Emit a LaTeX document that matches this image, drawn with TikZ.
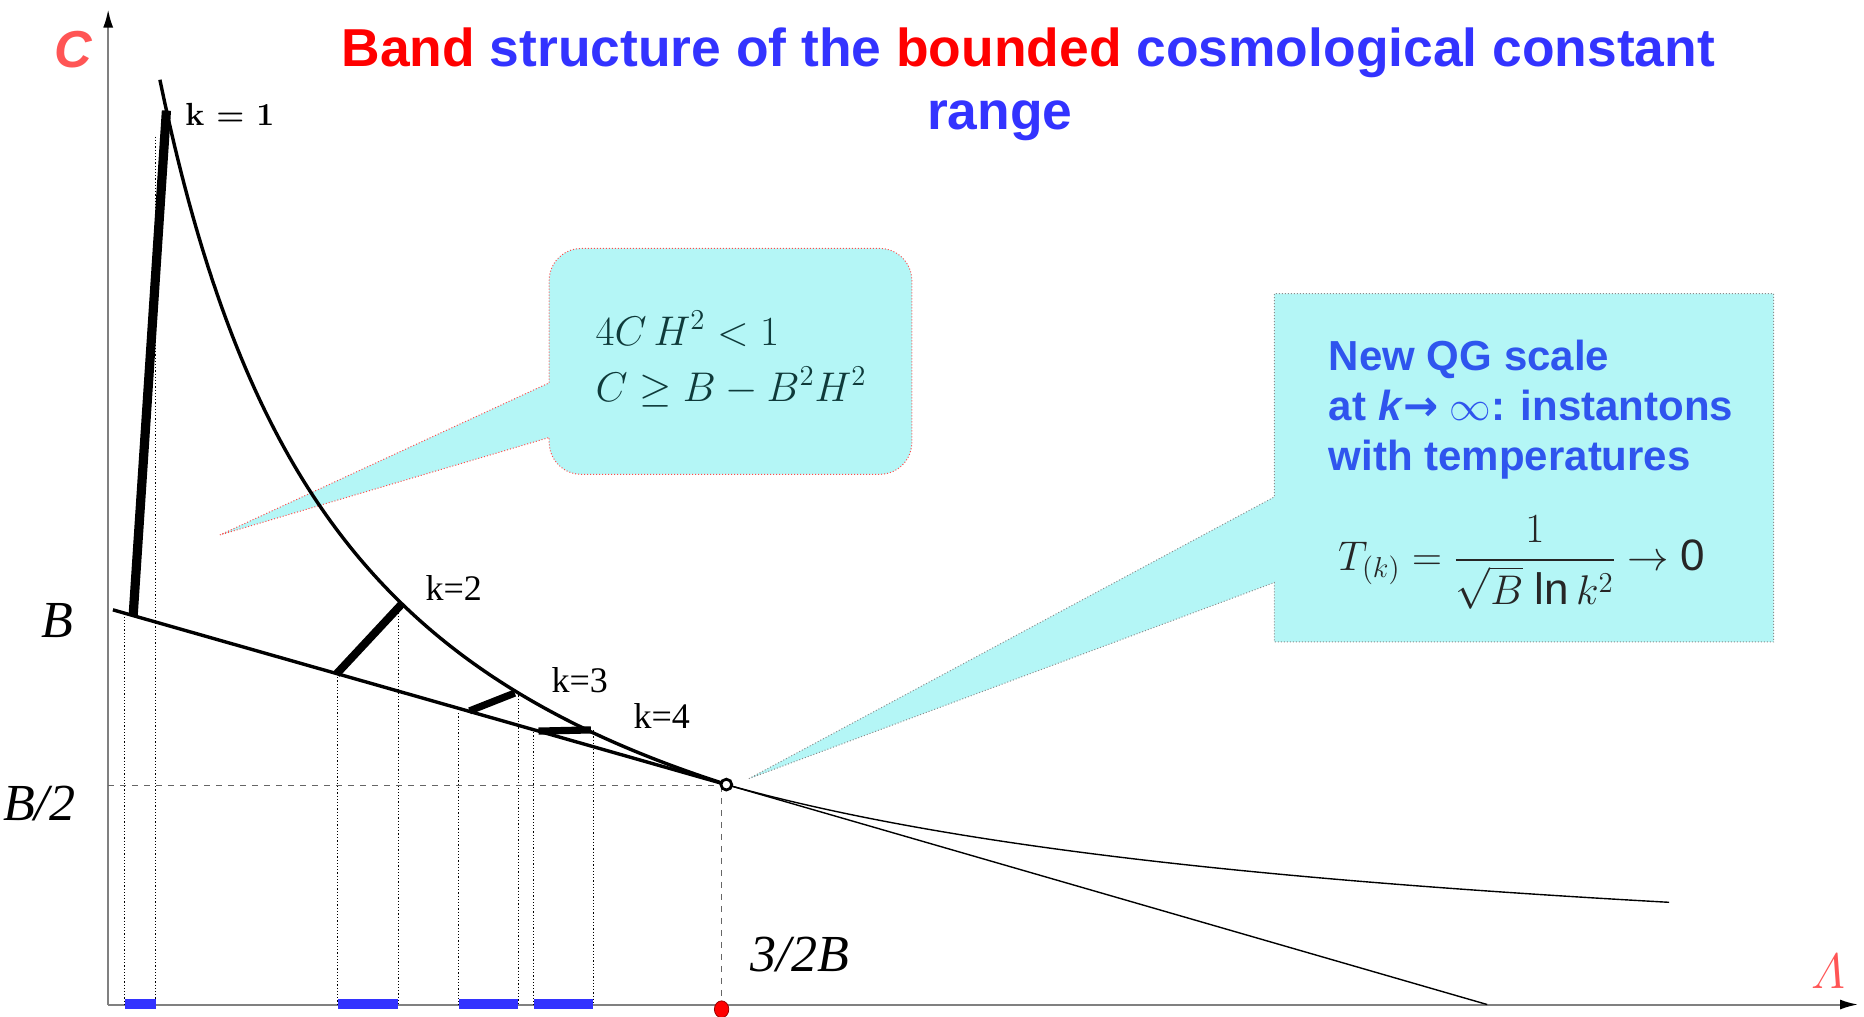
\documentclass[tikz,border=0pt]{standalone}
\usepackage{amsmath,amssymb}
\usepackage{fontspec}
\setsansfont{Liberation Sans}
\newfontfamily\timesfont{Liberation Serif}
\newfontfamily\arrowfont{DejaVu Sans}
\usetikzlibrary{arrows.meta,positioning,calc}
\definecolor{titlered}{HTML}{FF0000}
\definecolor{titleblue}{HTML}{3333FF}
\definecolor{axisred}{HTML}{FF5555}
\definecolor{qgblue}{HTML}{2F55EE}
\definecolor{callcyan}{HTML}{B4F6F6}
\definecolor{mathteal}{HTML}{0F3A3A}
\definecolor{bandblue}{HTML}{3333FF}
\tikzset{axis/.style={draw=black!50,line width=1pt,-{Latex[black,length=9pt,width=5pt]}},
  curve/.style={line width=1.7pt,line join=round},
  thin curve/.style={line width=0.7pt},
  bandbar/.style={line width=3.6pt},
  guide/.style={densely dotted,line width=0.6pt},
  helper/.style={dashed,draw=black!60,line width=0.6pt},
  klabel/.style={anchor=west,font=\timesfont\fontsize{18}{18}\selectfont},
  axlabel/.style={font=\timesfont\itshape\fontsize{26}{26}\selectfont},
  titlefont/.style={anchor=base,text=titleblue,font=\sffamily\bfseries\fontsize{26.7}{32}\selectfont},
  callone/.style={fill=callcyan,draw=red!70,densely dotted,line width=0.5pt},
  calltwo/.style={fill=callcyan,draw=black!45,densely dotted,line width=0.5pt}}
\begin{document}
\begin{tikzpicture}[x=0.5944pt,y=-0.5944pt]
\useasboundingbox (0,0) rectangle (1568,855);
\filldraw[callone] (185,450) -- (462,322) {[rounded corners=16pt] -- (462,209) -- (767,209) -- (767,399) -- (462,399)} -- (462,368) -- cycle;
\filldraw[calltwo] (630,655) -- (1072,418) -- (1072,247) -- (1492,247) -- (1492,540) -- (1072,540) -- (1072,490) -- cycle;
\coordinate (O) at (91,845);
\coordinate (Ytip) at (91,8);
\coordinate (Xtip) at (1563,845);
\draw[axis] (O) -- (Ytip);
\draw[axis] (O) -- (Xtip);
\foreach \gx/\gy in {105/516,131/115,284/567,335/510,386/600,436/585,449/616,499/614}
  \draw[guide] (\gx,\gy) -- (\gx,845);
\draw[helper] (91,661) -- (611,661);
\draw[helper] (607,661) -- (607,845);
\foreach \a/\b in {105/131,284/335,386/436,449/499}
  \fill[bandblue] (\a,840) rectangle (\b,849);
\coordinate (Bstart) at (95,513);
\coordinate (Pend) at (611,660);
\coordinate (Lzero) at (1251,845);
\draw[curve] (Bstart) -- (Pend);
\draw[thin curve] (Pend) -- (Lzero);
\draw[curve] plot[domain=134.5:611,samples=120] (\x,{865-1315.75/((\x+30.4)/100)});
\draw[thin curve] plot[domain=611:1404,samples=80] (\x,{838.6-1138.49/((\x+26.5)/100)});
\foreach \n/\lx/\ly/\hx/\hy/\w in {one/112/518/140/93/4.6,two/283/567/338/508/4,three/395/598/433/583/3.6,four/453/615/497/614/3.6}{
  \coordinate (k\n lo) at (\lx,\ly);
  \coordinate (k\n hi) at (\hx,\hy);
  \draw[bandbar,line width=\w pt] (k\n lo) -- (k\n hi);}
\draw[line width=1.4pt,fill=white] (Pend) circle (2.7pt);
\filldraw[fill=red,draw=red!60!black] (607,849) ellipse (3.6pt and 4.2pt);
\node[text=axisred,font=\sffamily\bfseries\itshape\fontsize{26}{26}\selectfont] (labC) at (62,42) {C};
\node[text=axisred,font=\fontsize{28}{28}\selectfont] (labLam) at (1538,817) {$\varLambda$};
\node[axlabel] (labB) at (48,522) {B};
\node[axlabel] (labBhalf) at (33,676) {B/2};
\node[axlabel] (labThree) at (673,803) {3/2B};
\node[anchor=west,font=\bfseries\fontsize{16}{16}\selectfont] (kone) at (150,96) {k = 1};
\node[klabel] (ktwo) at (352,495) {k=2};
\node[klabel] (kthree) at (458,572) {k=3};
\node[klabel] (kfour) at (527,602) {k=4};
\node[titlefont] (title) at (865,56) {\textcolor{titlered}{Band} structure of the \textcolor{titlered}{bounded} cosmological constant};
\node[titlefont] (titlerange) at (841,109) {range};
\node[text=mathteal,align=left,font=\fontsize{22}{28}\selectfont] (cond) at (615,302) {$4C\,H^2<1$\\$C\geq B-B^2H^2$};
\node[text=qgblue,align=left,anchor=west,font=\sffamily\bfseries\fontsize{21}{25}\selectfont] (qgtext) at (1112,345) {New QG scale\\at \textit{k}{\arrowfont\bfseries →} $\infty$: instantons\\with temperatures};
\node[text=black!85,font=\fontsize{22}{22}\selectfont] (tform) at (1280,473) {$T_{(k)}=\dfrac{1}{\sqrt{B}\;\textsf{ln}\,k^2}\to\textsf{0}$};
\end{tikzpicture}
\end{document}
